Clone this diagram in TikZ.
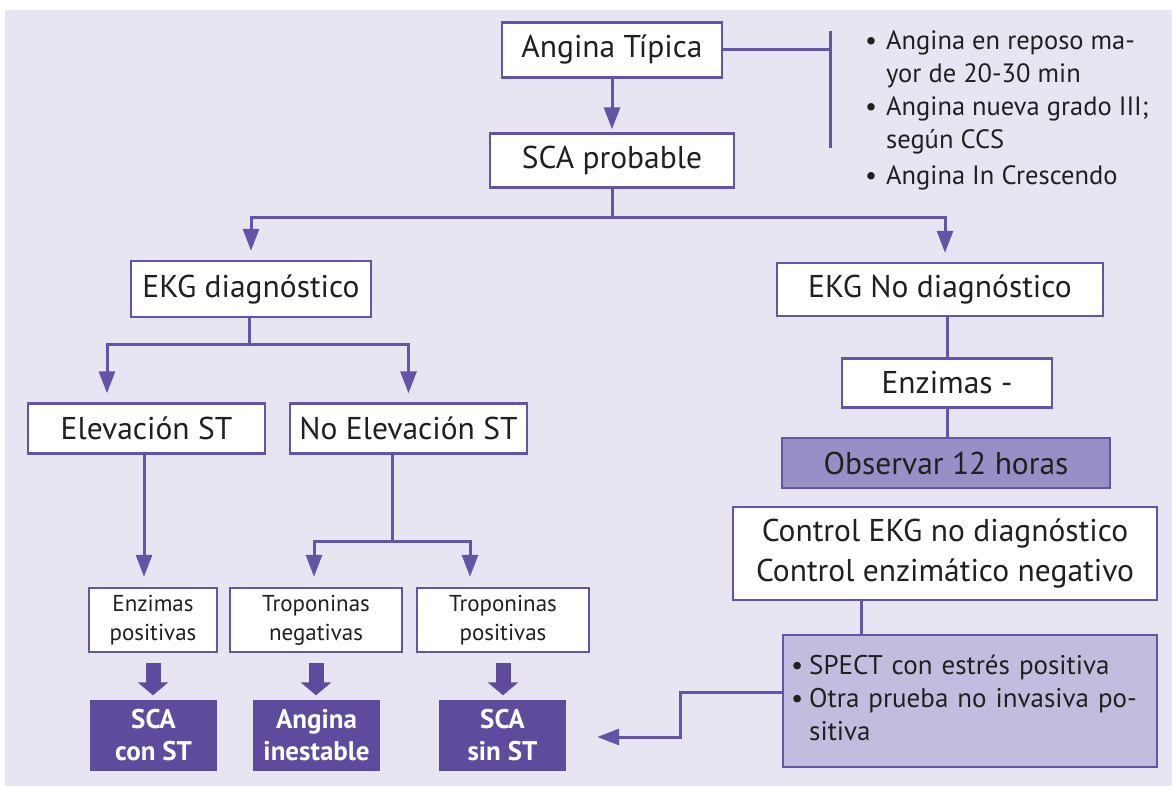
\documentclass[tikz,border=0pt]{standalone}
\usepackage{fontspec}
\setmainfont{PT Sans}
\usetikzlibrary{arrows.meta,calc}
\definecolor{bgc}{HTML}{E8E4F2}
\definecolor{pline}{HTML}{6453A6}
\definecolor{pdark}{HTML}{5E4B9E}
\definecolor{pmid}{HTML}{9A8EC6}
\definecolor{plight}{HTML}{C4BCDF}
\definecolor{txt}{HTML}{231F20}
\begin{document}
\begin{tikzpicture}[x=1pt,y=-1pt,
  box/.style={draw=pline,line width=2.4pt,fill=white,inner sep=0pt,align=center,text=txt,font=\fontsize{31.5}{40}\selectfont},
  sbox/.style={box,font=\fontsize{23}{29}\selectfont,minimum height=64pt},
  dbox/.style={fill=pdark,inner sep=0pt,align=center,text=white,minimum height=71pt,font=\fontsize{27}{32}\selectfont\bfseries},
  conn/.style={draw=pline,line width=3pt},
  arr/.style={conn,-{Triangle[width=16pt,length=22pt]},shorten >=9pt},
  blk/.style={draw=pdark,line width=15pt,-{Triangle[width=30pt,length=13pt]}},
  listtxt/.style={inner sep=0pt,text=txt,align=left,font=\fontsize{26.5}{33}\selectfont}
]
\useasboundingbox (0,0) rectangle (1172,786);
\fill[white] (0,0) rectangle (1172,786);
\fill[bgc] (5,10) rectangle (1172,786);

% top
\node[box,minimum width=220pt,minimum height=55pt] (ang) at (612,50) {Angina Típica};
\node[box,minimum width=244pt,minimum height=54pt] (scap) at (612,160.5) {SCA probable};
\node[listtxt,anchor=north west] (crit) at (865,26) {\begin{tabular}{@{}l@{\hspace{9pt}}l@{}}
\textbullet & Angina en reposo ma-\\
 & yor de 20-30 min\\
\textbullet & Angina nueva grado III;\\
 & según CCS\\[3pt]
\textbullet & Angina In Crescendo
\end{tabular}};

% second level
\node[box,minimum width=240pt,minimum height=56pt] (ekgd) at (251,289) {EKG diagnóstico};
\node[box,minimum width=326pt,minimum height=53pt] (ekgn) at (940,289.5) {EKG No diagnóstico};

% left branch
\node[box,minimum width=237pt,minimum height=50pt] (elev) at (146.5,428.5) {Elevación ST};
\node[box,minimum width=237pt,minimum height=50pt] (noelev) at (408.5,428.5) {No Elevación ST};
\node[sbox,minimum width=128pt] (enzp) at (153,620) {Enzimas\\positivas};
\node[sbox,minimum width=172pt] (tneg) at (316,620) {Troponinas\\negativas};
\node[sbox,minimum width=172pt] (tpos) at (503,620) {Troponinas\\positivas};
\node[dbox,minimum width=127pt] (sccon) at (153.5,735) {SCA\\con ST};
\node[dbox,minimum width=127pt] (ainest) at (316.5,735) {Angina\\inestable};
\node[dbox,minimum width=127pt] (scsin) at (502.5,735) {SCA\\sin ST};

% right branch
\node[box,minimum width=210pt,minimum height=49pt] (enzm) at (947,383) {Enzimas -};
\node[box,fill=pmid,minimum width=328pt,minimum height=50pt] (obs) at (946,463) {Observar 12 horas};
\node[box,minimum width=424pt,minimum height=93pt] (ctrl) at (945,553.5) {Control EKG no diagnóstico\\Control enzimático negativo};
\node[box,fill=plight,minimum width=374pt,minimum height=132pt,text width=358pt,inner xsep=8pt,align=left,font=\fontsize{27}{33}\selectfont] (spect) at (970,701) {\begin{tabular}{@{}l@{\hspace{6pt}}l@{}}
\textbullet & SPECT con estrés positiva\\
\textbullet & Otra prueba no invasiva po-\\
 & sitiva
\end{tabular}};

% connectors top
\draw[arr,shorten >=3pt] (ang) -- (scap);
\coordinate (bartop) at (830,31);
\coordinate (barbot) at (830,148);
\draw[conn] (ang.east) -- (ang.east -| bartop);
\draw[conn] (bartop) -- (barbot);
\draw[conn] (scap.south) -- ++(0,29) coordinate (j1);
\draw[arr] (j1) -| (ekgd.north);
\draw[arr] (j1) -| ([xshift=5pt]ekgn.north);

% left connectors
\draw[conn] ([xshift=-2pt]ekgd.south) -- ++(0,26) coordinate (j2);
\draw[arr] (j2) -| ([xshift=-39.5pt]elev.north);
\draw[arr] (j2) -| (noelev.north);
\draw[arr,shorten >=10pt] ([xshift=-2.5pt]elev.south) -- ([xshift=-2.5pt]elev.south |- enzp.north);
\draw[conn] ([xshift=-16pt]noelev.south) -- ++(0,86.5) coordinate (j3);
\draw[arr,shorten >=10pt] (j3) -| ([xshift=-2pt]tneg.north);
\draw[arr,shorten >=10pt] (j3) -| ([xshift=-33pt]tpos.north);
\draw[blk] ([yshift=-10pt]enzp.south) -- ([yshift=4pt]enzp.south |- sccon.north);
\draw[blk] ([yshift=-10pt]tneg.south) -- ([yshift=4pt]tneg.south |- ainest.north);
\draw[blk] ([yshift=-10pt]tpos.south) -- ([yshift=4pt]tpos.south |- scsin.north);

% right connectors
\draw[conn] (ekgn.south -| enzm.north) -- (enzm.north);
\draw[conn] (enzm.south) -- (enzm.south |- obs.north);
\draw[conn] (obs.south -| enzm.south) -- (obs.south -| enzm.south |- ctrl.north);
\draw[conn] ([xshift=-84pt]ctrl.south) -- ([xshift=-84pt]ctrl.south |- spect.north);
\coordinate (tipx) at ($(scsin.east)+(31,2)$);
\draw[conn,-{Triangle[width=16pt,length=22pt]}] ([yshift=9pt]spect.west) -- ++(-101,0) |- (tipx);
\end{tikzpicture}
\end{document}
